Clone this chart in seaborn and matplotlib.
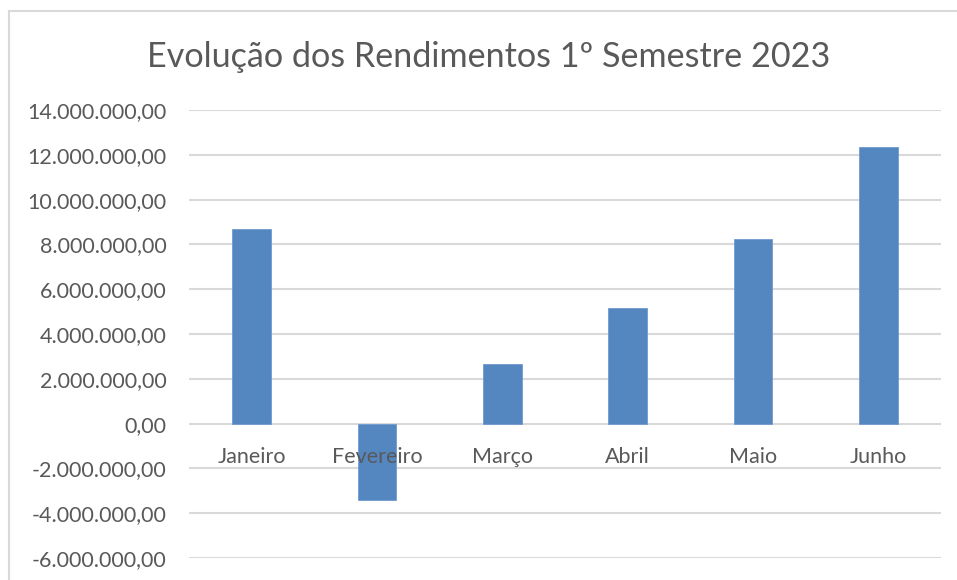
import matplotlib
matplotlib.use("Agg")
import matplotlib.pyplot as plt
import matplotlib.ticker as mticker
from matplotlib.patches import Rectangle
import seaborn as sns
import pandas as pd

months = ["Janeiro", "Fevereiro", "Março", "Abril", "Maio", "Junho"]
values = [8700000, -3410000, 2670000, 5160000, 8260000, 12370000]
title = "Evolução dos Rendimentos 1º Semestre 2023"

sns.set_theme(style="white")
plt.rcParams['font.family'] = ['Lato', 'DejaVu Sans']

TEXT = "#595959"
GRID = "#D9D9D9"
BAR = "#5487C0"

W, H = 957, 580
fig = plt.figure(figsize=(W / 100, H / 100), dpi=100)
ax = fig.add_axes([189 / W, 1 - 558 / H, (941 - 189) / W, (558 - 110) / H])

df = pd.DataFrame({"month": months, "value": values})
sns.barplot(data=df, x="month", y="value", color=BAR, saturation=1,
            width=0.31, ax=ax, zorder=3, edgecolor="#6F9AD0", linewidth=0.6)

ax.set_ylim(-6000000, 14000000)
ax.set_xlim(-0.5, 5.5)
ax.yaxis.set_major_locator(mticker.MultipleLocator(2000000))


def br(v, pos):
    s = f"{v:,.2f}"
    return s.replace(",", "X").replace(".", ",").replace("X", ".")


ax.yaxis.set_major_formatter(mticker.FuncFormatter(br))
ax.grid(axis="y", color=GRID, linewidth=1.5, zorder=0)
ax.grid(axis="x", visible=False)
for s in ax.spines.values():
    s.set_visible(False)
ax.spines["bottom"].set_position(("data", 0))
ax.set_xlabel("")
ax.set_ylabel("")
ax.tick_params(axis="y", length=0, pad=16, labelsize=15.5, labelcolor=TEXT)
ax.tick_params(axis="x", length=0, pad=17, labelsize=15.5, labelcolor=TEXT)
ax.xaxis.set_zorder(5)
ax.yaxis.set_zorder(0.5)

fig.text(489 / W, 1 - 57 / H, title, ha="center", va="center",
         fontsize=24.6, color=TEXT)

fig.patches.append(Rectangle((9 / W, -0.1), 1.2, 1 - 11 / H + 0.1,
                             transform=fig.transFigure, fill=False,
                             edgecolor=GRID, linewidth=1.5))

fig.savefig("out.png", dpi=100)
